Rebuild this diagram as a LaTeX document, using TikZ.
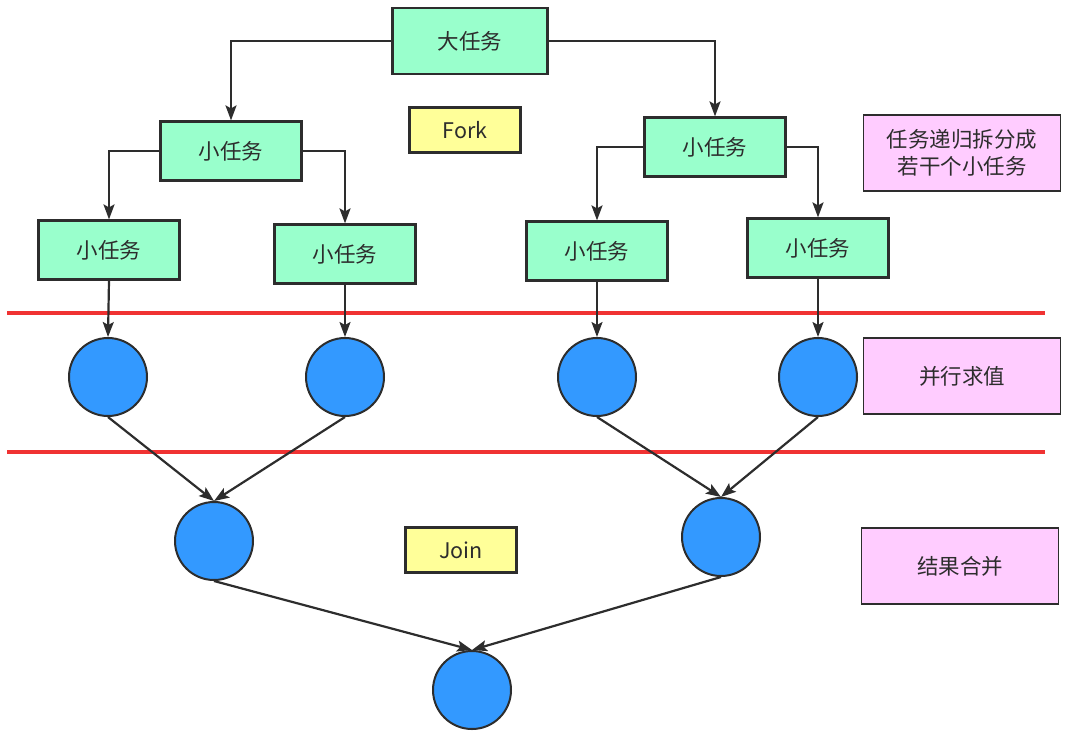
\documentclass[tikz,border=0pt]{standalone}
\usepackage{fontspec}
\setmainfont{Noto Sans CJK SC}
\usetikzlibrary{arrows.meta,positioning}
\definecolor{taskgreen}{RGB}{153,255,204}
\definecolor{tagyellow}{RGB}{255,255,153}
\definecolor{notepink}{RGB}{255,204,255}
\definecolor{dotblue}{RGB}{51,153,255}
\definecolor{cutred}{RGB}{240,50,50}
\definecolor{ink}{RGB}{45,45,45}
\tikzset{
  task/.style={draw=ink, line width=2.2pt, fill=taskgreen, minimum width=141pt, minimum height=59pt, inner sep=0pt},
  tag/.style={draw=ink, line width=2.2pt, fill=tagyellow, minimum width=111pt, minimum height=45pt, inner sep=0pt},
  note/.style={draw=ink, line width=1.8pt, fill=notepink, minimum width=197pt, minimum height=76pt, inner sep=0pt, align=center},
  dot/.style={circle, draw=ink, line width=2pt, fill=dotblue, minimum size=78pt, inner sep=0pt},
  flow/.style={draw=ink, line width=2.2pt, -{Stealth[length=15pt,width=11pt,inset=3pt]}},
  cut/.style={draw=cutred, line width=3.5pt}
}
\begin{document}
\begin{tikzpicture}[x=1pt, y=-1pt, font=\fontsize{21.5}{28}\selectfont, text=ink]
      \useasboundingbox (0,0) rectangle (1081,734);
      % fork part
      \node[task, minimum width=155pt, minimum height=66pt] (big) at (470,41) {大任务};
      \node[task] (l) at (231,151) {小任务};
      \node[task] (r) at (715,147) {小任务};
      \node[task] (ll) at (109,250) {小任务};
      \node[task] (lr) at (345,254) {小任务};
      \node[task] (rl) at (597,251) {小任务};
      \node[task] (rr) at (818,248) {小任务};
      \node[tag] (fork) at (465,130) {Fork};
      % evaluation and join
      \node[dot] (p1) at (108,377) {};
      \node[dot] (p2) at (345,377) {};
      \node[dot] (p3) at (597,377) {};
      \node[dot] (p4) at (818,377) {};
      \node[dot] (j1) at (214,541) {};
      \node[dot] (j2) at (721,537) {};
      \node[dot] (res) at (472,690) {};
      \node[tag] (join) at (461,550) {Join};
      % notes on the right
      \node[note] (split) at (962,153) {任务递归拆分成\\[-1pt]若干个小任务};
      \node[note] (eval) at (962,376) {并行求值};
      \node[note] (merge) at (960,566) {结果合并};
      % red separators
      \coordinate (a1) at (7,313); \coordinate (a2) at (1045,313);
      \coordinate (b1) at (7,452); \coordinate (b2) at (1045,452);
      \draw[cut] (a1) -- (a2);
      \draw[cut] (b1) -- (b2);
      % connectors
      \draw[flow] (big.west) -| (l.north);
      \draw[flow] (big.east) -| (r.north);
      \draw[flow] (l.west) -| (ll.north);
      \draw[flow] (l.east) -| (lr.north);
      \draw[flow] (r.west) -| (rl.north);
      \draw[flow] (r.east) -| (rr.north);
      \draw[flow] (ll.south) -- (p1.north);
      \draw[flow] (lr.south) -- (p2.north);
      \draw[flow] (rl.south) -- (p3.north);
      \draw[flow] (rr.south) -- (p4.north);
      \draw[flow] (p1.south) -- (j1.north);
      \draw[flow] (p2.south) -- (j1.north);
      \draw[flow] (p3.south) -- (j2.north);
      \draw[flow] (p4.south) -- (j2.north);
      \draw[flow] (j1.south) -- (res.north);
      \draw[flow] (j2.south) -- (res.north);
\end{tikzpicture}
\end{document}
